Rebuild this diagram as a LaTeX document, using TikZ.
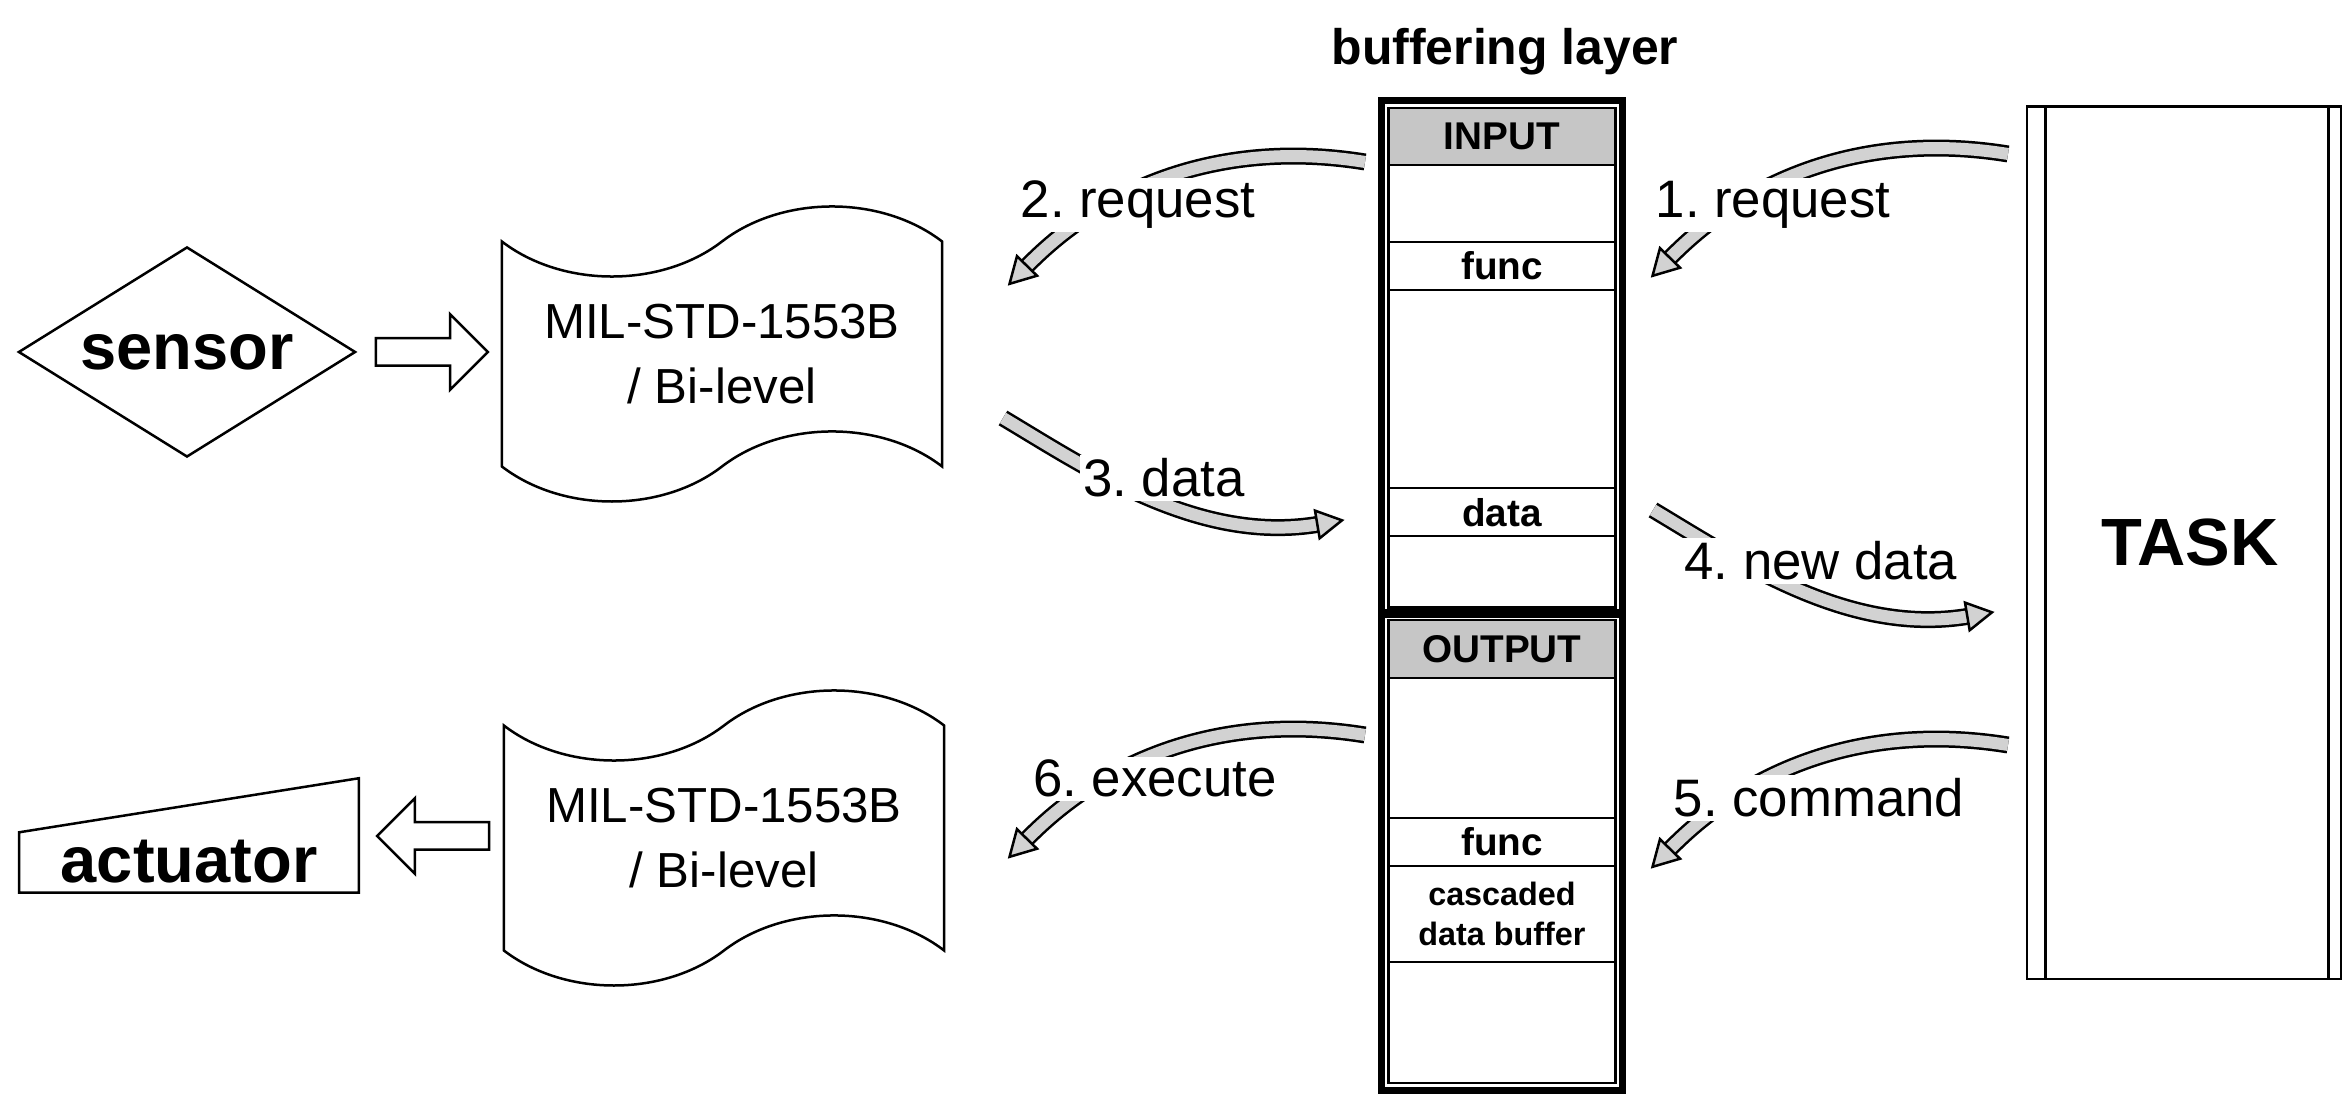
\documentclass[tikz,border=0pt]{standalone}
\usepackage{fontspec}
\setmainfont{Liberation Sans}
\frenchspacing
\usetikzlibrary{shapes.geometric, shapes.symbols, shapes.arrows, positioning, fit, decorations.markings}
\tikzset{
    cell/.style={
           rectangle,
           draw=black, line width=0.025cm,
           minimum width=2.27cm,
           inner sep=0pt, outer sep=0pt,
           text centered,
           font=\fontsize{11}{13}\selectfont\bfseries,
           },
    bufhead/.style={cell, fill=gray!45},
    bufframe/.style={draw=black, line width=0.07cm, inner sep=0.07cm},
    bus/.style={
           tape, draw=black, line width=0.025cm,
           minimum width=4.4cm, inner ysep=0.275cm,
           tape bend height=0.7cm,
           align=center, font=\fontsize{14}{18.5}\selectfont,
           },
    hollow/.style={
           single arrow, draw=black, line width=0.025cm,
           minimum height=1.12cm,
           single arrow head extend=0.24cm,
           inner xsep=0pt, inner ysep=0.125cm,
           },
    flow/.style={
           draw=gray!35, line width=0.12cm,
           preaction={draw=black, line width=0.17cm},
           postaction={decorate, decoration={markings,
             mark=at position 0.995 with {\filldraw[fill=gray!35, draw=black, line width=0.025cm] (-1,-14) -- (24,0) -- (-1,14) -- cycle;}}},
           },
    lbl/.style={fill=white, inner sep=1pt, anchor=base, font=\fontsize{15}{18}\selectfont},
}

\begin{document}
\begin{tikzpicture}[x=0.01cm, y=-0.01cm]
  \useasboundingbox (0,0) rectangle (2344,1095);

  \node[font=\fontsize{14.2}{17}\selectfont\bfseries, anchor=base] (title) at (1505,65) {buffering layer};

% input half of the buffering layer
  \node[bufhead, minimum height=0.57cm]                  (inhead)  at (1502,136.5) {INPUT};
  \node[cell, minimum height=0.77cm, below=0pt of inhead] (in1)     {};
  \node[cell, minimum height=0.48cm, below=0pt of in1]    (infunc)  {func};
  \node[cell, minimum height=1.98cm, below=0pt of infunc] (in2)     {};
  \node[cell, minimum height=0.48cm, below=0pt of in2]    (indata)  {data};
  \node[cell, minimum height=0.71cm, below=0pt of indata] (in3)     {};
  \node[bufframe, fit=(inhead)(in3)]                      (inbuf)   {};

% output half
  \node[bufhead, minimum height=0.58cm]                    (outhead) at (1502,649) {OUTPUT};
  \node[cell, minimum height=1.40cm, below=0pt of outhead] (out1)    {};
  \node[cell, minimum height=0.48cm, below=0pt of out1]    (outfunc) {func};
  \node[cell, minimum height=0.96cm, below=0pt of outfunc, align=center,
        font=\fontsize{9.2}{11.4}\selectfont\bfseries]     (outcasc) {cascaded\\data buffer};
  \node[cell, minimum height=1.21cm, below=0pt of outcasc] (out2)    {};
  \node[bufframe, fit=(outhead)(out2)]                     (outbuf)  {};

% devices and buses
  \node[diamond, draw, line width=0.025cm, minimum width=3.37cm, minimum height=2.1cm,
        shape aspect=1.6, inner sep=0pt, font=\fontsize{18.5}{22}\selectfont\bfseries] (sensor) at (187,352) {sensor};
  \node[hollow]                          (sensarrow) at (425,352) {};
  \node[bus]                             (bustop)    at (722,354) {MIL-STD-1553B\\/ Bi-level};
  \node[bus]                             (busbot)    at (724,838) {MIL-STD-1553B\\/ Bi-level};
  \node[hollow, shape border rotate=180] (actarrow)  at (440,836) {};
  \node[inner sep=0pt, minimum width=3.38cm, text height=1.03cm, text depth=0.1cm,
        font=\fontsize{18.5}{22}\selectfont\bfseries] (act) at (189,835.5) {actuator};
  \draw[line width=0.025cm] (act.south west) -- (act.south east) -- (act.north east)
        -- ([yshift=-0.54cm]act.north west) -- cycle;

  \node[rectangle, draw, line width=0.025cm, minimum width=3.14cm, minimum height=8.72cm,
        font=\fontsize{19}{23}\selectfont\bfseries] (task) at (2184,543) {\hspace*{0.12cm}TASK};
  \draw[line width=0.025cm] ([xshift=0.2cm]task.north west) -- ([xshift=0.2cm]task.south west);
  \draw[line width=0.025cm] ([xshift=-0.14cm]task.north east) -- ([xshift=-0.14cm]task.south east);

% message flow
  \coordinate (req1s) at (2008,154);  \coordinate (req1e) at (1668,260);
  \coordinate (req2s) at (1365,162);  \coordinate (req2e) at (1025,268);
  \coordinate (dat3s) at (1003,418);  \coordinate (dat3e) at (1320,524);
  \coordinate (dat4s) at (1653,510);  \coordinate (dat4e) at (1970,616);
  \coordinate (cmd5s) at (2008,745);  \coordinate (cmd5e) at (1668,851);
  \coordinate (exe6s) at (1365,735);  \coordinate (exe6e) at (1025,841);

  \draw[flow] (req1s) .. controls +(-135,-22) and +(85,-88) .. (req1e);
  \draw[flow] (req2s) .. controls +(-135,-22) and +(85,-88) .. (req2e);
  \draw[flow] (dat3s) .. controls +(87,52) and +(-120,21) .. (dat3e);
  \draw[flow] (dat4s) .. controls +(87,52) and +(-120,21) .. (dat4e);
  \draw[flow] (cmd5s) .. controls +(-135,-22) and +(85,-88) .. (cmd5e);
  \draw[flow] (exe6s) .. controls +(-135,-22) and +(85,-88) .. (exe6e);

  \node[lbl] (lbl1) at (1773,218) {1. request};
  \node[lbl] (lbl2) at (1138,218) {2. request};
  \node[lbl] (lbl3) at (1164,497) {3. data};
  \node[lbl] (lbl4) at (1821,580) {4. new data};
  \node[lbl] (lbl5) at (1819,817) {5. command};
  \node[lbl] (lbl6) at (1155,797) {6. execute};

\end{tikzpicture}
\end{document}
